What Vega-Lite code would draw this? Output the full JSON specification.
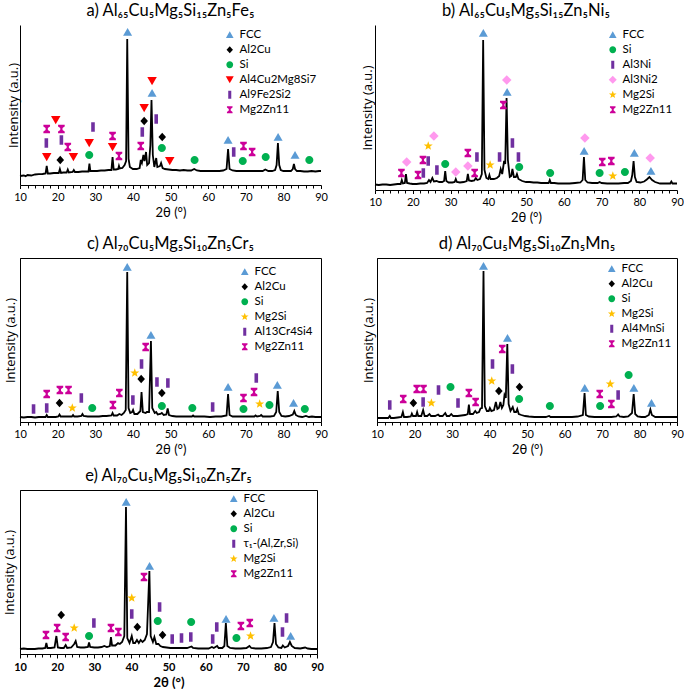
{
  "$schema": "https://vega.github.io/schema/vega-lite/v6.json",
  "background": "white",
  "padding": {"left": 2, "top": 2, "right": 0, "bottom": 0},
  "config": {
    "view": {"stroke": null},
    "font": "Lato",
    "title": {"font": "Lato", "fontSize": 16.5, "fontWeight": "normal", "color": "black", "anchor": "middle", "offset": 6},
    "axis": {"labelFont": "Lato", "titleFont": "Lato", "labelFontSize": 11, "titleFontSize": 13, "titleFontWeight": "normal", "labelColor": "black", "titleColor": "black", "domainColor": "black", "tickColor": "black", "grid": false, "labelFlush": false},
    "axisY": {"titleFont": "Open Sans", "titleFontSize": 13},
    "legend": {"orient": "top-right", "offset": 4, "labelFont": "Lato", "labelFontSize": 11.5, "labelColor": "black", "symbolSize": 64, "rowPadding": 2, "symbolOpacity": 1, "symbolStrokeWidth": 0, "padding": 0},
    "concat": {"spacing": 33}
  },
  "datasets": {
    "a_line": [
      {"x":10,"y":9},{"x":11,"y":9.5},{"x":11.5,"y":8.8},{"x":12,"y":10},{"x":13,"y":9.5},{"x":14,"y":10.5},{"x":15,"y":10.8},{"x":16,"y":11},{"x":16.8,"y":11.5},{"x":17.1,"y":19},{"x":17.4,"y":11.5},{"x":18,"y":11.5},{"x":19,"y":12},{"x":20,"y":12},{"x":20.3,"y":12},{"x":20.6,"y":16},{"x":20.9,"y":12},{"x":21.5,"y":12.5},{"x":22.4,"y":12.5},{"x":22.7,"y":15.5},{"x":23,"y":12.5},{"x":24,"y":13},{"x":24.3,"y":15},{"x":24.6,"y":13},{"x":25.5,"y":13},{"x":26.5,"y":13.5},{"x":27.5,"y":13.5},{"x":28.2,"y":13.5},{"x":28.45,"y":21.5},{"x":28.7,"y":14},{"x":29.5,"y":14},{"x":30.5,"y":14},{"x":31.5,"y":14.5},{"x":32.5,"y":14.5},{"x":33.5,"y":15},{"x":34.3,"y":15},{"x":34.6,"y":28},{"x":34.9,"y":15.5},{"x":35.5,"y":15.5},{"x":36.1,"y":16},{"x":36.3,"y":19},{"x":36.5,"y":16.5},{"x":37.2,"y":17},{"x":37.8,"y":20},{"x":38.2,"y":24},{"x":38.5,"y":146},{"x":38.85,"y":26},{"x":39.2,"y":18},{"x":40,"y":16},{"x":41,"y":16},{"x":41.8,"y":17},{"x":42.1,"y":25},{"x":42.4,"y":22},{"x":42.8,"y":30},{"x":43.1,"y":24},{"x":43.5,"y":33},{"x":43.8,"y":20},{"x":44.3,"y":22},{"x":44.65,"y":40},{"x":44.95,"y":85},{"x":45.3,"y":30},{"x":45.7,"y":18},{"x":46.2,"y":27},{"x":46.5,"y":18},{"x":47.2,"y":19},{"x":47.5,"y":22},{"x":47.9,"y":17},{"x":48.5,"y":16},{"x":49.5,"y":15.5},{"x":50.5,"y":15},{"x":51.5,"y":15},{"x":52.5,"y":14.5},{"x":53.5,"y":15},{"x":54.5,"y":14.5},{"x":55.5,"y":14.5},{"x":56.3,"y":16},{"x":57,"y":14.5},{"x":58,"y":14},{"x":59,"y":14},{"x":60,"y":14},{"x":61,"y":14},{"x":62,"y":14},{"x":63,"y":14},{"x":64,"y":14.5},{"x":64.9,"y":16},{"x":65.3,"y":36},{"x":65.7,"y":16},{"x":66.5,"y":14.5},{"x":67.5,"y":14},{"x":68.5,"y":14},{"x":69.5,"y":14},{"x":70.5,"y":14},{"x":71.5,"y":14},{"x":72.5,"y":14},{"x":73.5,"y":14},{"x":74.5,"y":14},{"x":75.2,"y":15.5},{"x":76,"y":14},{"x":77,"y":14},{"x":77.8,"y":15},{"x":78.2,"y":20},{"x":78.55,"y":42},{"x":78.9,"y":20},{"x":79.3,"y":15},{"x":80,"y":14},{"x":81,"y":14},{"x":82,"y":14},{"x":82.5,"y":16},{"x":82.8,"y":21},{"x":83.1,"y":16},{"x":83.6,"y":14},{"x":84.5,"y":14},{"x":85.5,"y":13.5},{"x":86.5,"y":13.5},{"x":87.5,"y":14},{"x":88.5,"y":13.5},{"x":89.5,"y":14},{"x":90,"y":14}
    ],
    "a_pts": [
      {"x":38.6,"y":153,"p":"FCC"},{"x":45.1,"y":92,"p":"FCC"},{"x":65.3,"y":45,"p":"FCC"},{"x":78.6,"y":48,"p":"FCC"},{"x":83.1,"y":30,"p":"FCC"},
      {"x":20.7,"y":25,"p":"Al2Cu"},{"x":43.0,"y":64,"p":"Al2Cu"},{"x":47.8,"y":48,"p":"Al2Cu"},
      {"x":28.4,"y":30,"p":"Si"},{"x":47.7,"y":37,"p":"Si"},{"x":56.4,"y":25,"p":"Si"},{"x":69.2,"y":24,"p":"Si"},{"x":75.3,"y":28,"p":"Si"},{"x":86.9,"y":25,"p":"Si"},
      {"x":17.1,"y":28,"p":"Al4Cu2Mg8Si7"},{"x":19.5,"y":65,"p":"Al4Cu2Mg8Si7"},{"x":24.2,"y":28,"p":"Al4Cu2Mg8Si7"},{"x":28.4,"y":42,"p":"Al4Cu2Mg8Si7"},{"x":34.6,"y":38,"p":"Al4Cu2Mg8Si7"},{"x":43.0,"y":77,"p":"Al4Cu2Mg8Si7"},{"x":45.1,"y":104,"p":"Al4Cu2Mg8Si7"},{"x":49.8,"y":24,"p":"Al4Cu2Mg8Si7"},
      {"x":17.0,"y":42,"p":"Al9Fe2Si2"},{"x":21.0,"y":45,"p":"Al9Fe2Si2"},{"x":29.4,"y":58,"p":"Al9Fe2Si2"},{"x":42.5,"y":53,"p":"Al9Fe2Si2"},{"x":46.2,"y":66,"p":"Al9Fe2Si2"},{"x":66.8,"y":33,"p":"Al9Fe2Si2"},
      {"x":17.1,"y":56,"p":"Mg2Zn11"},{"x":21.0,"y":56,"p":"Mg2Zn11"},{"x":22.7,"y":38,"p":"Mg2Zn11"},{"x":34.6,"y":49,"p":"Mg2Zn11"},{"x":36.3,"y":29,"p":"Mg2Zn11"},{"x":42.1,"y":39,"p":"Mg2Zn11"},{"x":69.4,"y":39,"p":"Mg2Zn11"},{"x":71.7,"y":33,"p":"Mg2Zn11"}
    ],
    "b_line": [
      {"x":10,"y":5.5},{"x":11,"y":5},{"x":12,"y":5.5},{"x":13,"y":5.5},{"x":14,"y":5},{"x":15,"y":5.5},{"x":16,"y":6},{"x":16.8,"y":6},{"x":17.1,"y":10},{"x":17.4,"y":6.5},{"x":17.9,"y":7},{"x":18.2,"y":16},{"x":18.5,"y":7},{"x":19.2,"y":6.5},{"x":20,"y":6},{"x":21,"y":6},{"x":22,"y":6.5},{"x":23,"y":6.5},{"x":23.8,"y":7},{"x":24.3,"y":10},{"x":24.7,"y":8},{"x":25.2,"y":12},{"x":25.6,"y":8.5},{"x":26.3,"y":9},{"x":27,"y":8},{"x":27.8,"y":8},{"x":28.3,"y":9},{"x":28.6,"y":19},{"x":28.9,"y":9},{"x":29.5,"y":7.5},{"x":30.5,"y":7.5},{"x":31.1,"y":8},{"x":31.4,"y":11},{"x":31.7,"y":8},{"x":32.5,"y":7.5},{"x":33.5,"y":8},{"x":34.3,"y":9},{"x":34.6,"y":16},{"x":34.9,"y":9.5},{"x":35.6,"y":9},{"x":36.3,"y":9.5},{"x":36.7,"y":12},{"x":37.1,"y":10},{"x":37.8,"y":11},{"x":38.3,"y":16},{"x":38.65,"y":150},{"x":39,"y":20},{"x":39.5,"y":12},{"x":40,"y":11},{"x":40.3,"y":15},{"x":40.6,"y":11},{"x":41.5,"y":11},{"x":42.3,"y":12},{"x":42.9,"y":14},{"x":43.3,"y":21},{"x":43.7,"y":16},{"x":44.2,"y":29},{"x":44.5,"y":26},{"x":44.85,"y":92},{"x":45.2,"y":30},{"x":45.7,"y":13},{"x":46.1,"y":14},{"x":46.4,"y":21},{"x":46.8,"y":13},{"x":47.3,"y":13},{"x":47.6,"y":16},{"x":48,"y":11},{"x":49,"y":9},{"x":50,"y":8},{"x":51,"y":8},{"x":52,"y":7.5},{"x":53,"y":7.5},{"x":54,"y":7},{"x":55,"y":7},{"x":56,"y":7},{"x":56.3,"y":10},{"x":56.6,"y":7},{"x":57.5,"y":7},{"x":58.5,"y":6.5},{"x":60,"y":6.5},{"x":61.5,"y":6.5},{"x":63,"y":7},{"x":64.4,"y":7.5},{"x":65,"y":10},{"x":65.35,"y":33},{"x":65.7,"y":10},{"x":66.3,"y":7.5},{"x":67.5,"y":7},{"x":69,"y":7},{"x":69.5,"y":8},{"x":70,"y":7},{"x":71.5,"y":6.5},{"x":73,"y":6.5},{"x":74.5,"y":6.5},{"x":76,"y":7},{"x":77,"y":7},{"x":77.8,"y":9},{"x":78.15,"y":15},{"x":78.5,"y":29},{"x":78.85,"y":13},{"x":79.3,"y":8},{"x":80.3,"y":7.5},{"x":81.3,"y":8.5},{"x":82,"y":10.5},{"x":82.7,"y":13},{"x":83.4,"y":10},{"x":84.2,"y":8},{"x":85.5,"y":6.5},{"x":87,"y":6.5},{"x":88.2,"y":6.5},{"x":88.5,"y":8.5},{"x":88.8,"y":6.5},{"x":90,"y":6.5}
    ],
    "b_pts": [
      {"x":38.7,"y":157,"p":"FCC"},{"x":45.0,"y":98,"p":"FCC"},{"x":65.4,"y":39,"p":"FCC"},{"x":78.7,"y":37,"p":"FCC"},{"x":83.1,"y":19,"p":"FCC"},
      {"x":28.6,"y":26,"p":"Si"},{"x":48.2,"y":23,"p":"Si"},{"x":56.4,"y":17,"p":"Si"},{"x":69.5,"y":17,"p":"Si"},{"x":76.2,"y":18,"p":"Si"},
      {"x":22.8,"y":17,"p":"Al3Ni"},{"x":24.1,"y":29,"p":"Al3Ni"},{"x":26.4,"y":20,"p":"Al3Ni"},{"x":37.0,"y":33,"p":"Al3Ni"},{"x":43.0,"y":33,"p":"Al3Ni"},{"x":46.4,"y":47,"p":"Al3Ni"},{"x":48.0,"y":33,"p":"Al3Ni"},
      {"x":18.4,"y":28,"p":"Al3Ni2"},{"x":25.6,"y":54,"p":"Al3Ni2"},{"x":31.4,"y":18,"p":"Al3Ni2"},{"x":34.6,"y":24,"p":"Al3Ni2"},{"x":44.9,"y":110,"p":"Al3Ni2"},{"x":65.6,"y":52,"p":"Al3Ni2"},{"x":82.9,"y":32,"p":"Al3Ni2"},
      {"x":24.1,"y":44,"p":"Mg2Si"},{"x":40.5,"y":25,"p":"Mg2Si"},{"x":73.0,"y":14,"p":"Mg2Si"},
      {"x":17.0,"y":17,"p":"Mg2Zn11"},{"x":21.4,"y":15,"p":"Mg2Zn11"},{"x":22.7,"y":30,"p":"Mg2Zn11"},{"x":34.6,"y":37,"p":"Mg2Zn11"},{"x":36.4,"y":17,"p":"Mg2Zn11"},{"x":44.0,"y":85,"p":"Mg2Zn11"},{"x":70.2,"y":28,"p":"Mg2Zn11"},{"x":72.6,"y":29,"p":"Mg2Zn11"}
    ],
    "c_line": [
      {"x":10,"y":5},{"x":11,"y":4.5},{"x":12,"y":5},{"x":13,"y":5},{"x":14,"y":4.5},{"x":15,"y":5},{"x":16,"y":5},{"x":16.8,"y":5},{"x":17.1,"y":7},{"x":17.4,"y":5},{"x":18.5,"y":5},{"x":19.5,"y":5},{"x":20.2,"y":5.5},{"x":20.5,"y":7.5},{"x":20.8,"y":5.5},{"x":22,"y":5.5},{"x":23,"y":5.5},{"x":23.8,"y":5.5},{"x":24.1,"y":7},{"x":24.4,"y":5.5},{"x":25.3,"y":5.5},{"x":26.3,"y":6},{"x":26.6,"y":8},{"x":26.9,"y":6},{"x":28,"y":5.5},{"x":29,"y":5.5},{"x":30,"y":5.5},{"x":31,"y":5.5},{"x":32,"y":6},{"x":33,"y":6},{"x":34.3,"y":6.5},{"x":34.6,"y":9},{"x":34.9,"y":6.5},{"x":35.8,"y":6.5},{"x":36.4,"y":8},{"x":37,"y":7},{"x":37.6,"y":9},{"x":38.1,"y":12},{"x":38.5,"y":150},{"x":38.85,"y":14},{"x":39.3,"y":9},{"x":39.8,"y":10},{"x":40.05,"y":12},{"x":40.4,"y":8},{"x":41.2,"y":8},{"x":42,"y":11},{"x":42.3,"y":30},{"x":42.65,"y":10},{"x":43.4,"y":9},{"x":43.7,"y":10},{"x":44.3,"y":10},{"x":44.8,"y":81},{"x":45.15,"y":14},{"x":45.8,"y":9},{"x":46.2,"y":10},{"x":46.6,"y":7.5},{"x":47.3,"y":8},{"x":47.7,"y":9},{"x":48.2,"y":7},{"x":48.9,"y":7.5},{"x":49.25,"y":13.5},{"x":49.6,"y":7},{"x":50.5,"y":6},{"x":51.5,"y":5.5},{"x":53,"y":5.5},{"x":54.5,"y":5.5},{"x":55.7,"y":5.5},{"x":56,"y":6.5},{"x":56.3,"y":5.5},{"x":57.5,"y":5.5},{"x":59,"y":5.5},{"x":60.5,"y":5},{"x":62,"y":5.5},{"x":63.5,"y":5.5},{"x":64.9,"y":6.5},{"x":65.3,"y":28},{"x":65.7,"y":7},{"x":66.5,"y":5.5},{"x":68,"y":5.5},{"x":69.5,"y":5.5},{"x":71,"y":5.5},{"x":72.3,"y":5.5},{"x":72.6,"y":6.5},{"x":73,"y":5.5},{"x":73.8,"y":6},{"x":74.1,"y":7},{"x":74.5,"y":5.5},{"x":75.5,"y":5.5},{"x":76.5,"y":5.5},{"x":77.5,"y":6},{"x":78.1,"y":10},{"x":78.5,"y":31},{"x":78.9,"y":10},{"x":79.5,"y":6},{"x":80.5,"y":5.5},{"x":81.5,"y":6},{"x":82.5,"y":7.5},{"x":82.9,"y":11},{"x":83.3,"y":7},{"x":84,"y":5.5},{"x":85,"y":5},{"x":86,"y":6},{"x":86.8,"y":5},{"x":87.6,"y":5.5},{"x":88.5,"y":5},{"x":90,"y":5}
    ],
    "c_pts": [
      {"x":38.5,"y":155,"p":"FCC"},{"x":44.8,"y":87,"p":"FCC"},{"x":65.3,"y":35,"p":"FCC"},{"x":78.4,"y":37,"p":"FCC"},{"x":82.7,"y":19,"p":"FCC"},
      {"x":20.5,"y":19,"p":"Al2Cu"},{"x":42.2,"y":43,"p":"Al2Cu"},{"x":47.7,"y":29,"p":"Al2Cu"},
      {"x":29.2,"y":14,"p":"Si"},{"x":47.7,"y":16,"p":"Si"},{"x":55.8,"y":14,"p":"Si"},{"x":69.4,"y":13,"p":"Si"},{"x":76.3,"y":17,"p":"Si"},{"x":85.7,"y":13,"p":"Si"},
      {"x":23.9,"y":14,"p":"Mg2Si"},{"x":40.5,"y":49,"p":"Mg2Si"},{"x":73.7,"y":18,"p":"Mg2Si"},
      {"x":13.6,"y":13,"p":"Al13Cr4Si4"},{"x":17.1,"y":14,"p":"Al13Cr4Si4"},{"x":26.3,"y":24,"p":"Al13Cr4Si4"},{"x":40.0,"y":22,"p":"Al13Cr4Si4"},{"x":42.3,"y":58,"p":"Al13Cr4Si4"},{"x":46.4,"y":40,"p":"Al13Cr4Si4"},{"x":49.3,"y":39,"p":"Al13Cr4Si4"},{"x":61.2,"y":15,"p":"Al13Cr4Si4"},{"x":72.8,"y":44,"p":"Al13Cr4Si4"},
      {"x":17.1,"y":28,"p":"Mg2Zn11"},{"x":20.6,"y":32,"p":"Mg2Zn11"},{"x":22.9,"y":32,"p":"Mg2Zn11"},{"x":34.7,"y":17,"p":"Mg2Zn11"},{"x":36.4,"y":29,"p":"Mg2Zn11"},{"x":43.4,"y":75,"p":"Mg2Zn11"},{"x":69.4,"y":24,"p":"Mg2Zn11"},{"x":72.2,"y":30,"p":"Mg2Zn11"}
    ],
    "d_line": [
      {"x":10,"y":4},{"x":11,"y":4},{"x":12,"y":4},{"x":13,"y":4},{"x":13.4,"y":6},{"x":13.7,"y":4},{"x":14.5,"y":4},{"x":15.5,"y":4.5},{"x":16.5,"y":5},{"x":16.9,"y":10},{"x":17.2,"y":5},{"x":18,"y":5},{"x":19,"y":5.5},{"x":19.3,"y":8.5},{"x":19.6,"y":6},{"x":20.4,"y":6},{"x":20.7,"y":10},{"x":21,"y":6},{"x":21.8,"y":6},{"x":22.3,"y":12},{"x":22.7,"y":6},{"x":23.4,"y":6},{"x":24,"y":8},{"x":24.4,"y":6},{"x":25.5,"y":6},{"x":26.3,"y":7.5},{"x":26.7,"y":6},{"x":27.5,"y":6},{"x":28.2,"y":9},{"x":28.6,"y":6},{"x":29.3,"y":6},{"x":29.8,"y":8},{"x":30.3,"y":6},{"x":31.5,"y":6},{"x":32.5,"y":6.5},{"x":33.5,"y":7},{"x":34.2,"y":8},{"x":34.5,"y":17.5},{"x":34.8,"y":8},{"x":35.6,"y":8},{"x":36.2,"y":11},{"x":36.6,"y":9},{"x":37.2,"y":10},{"x":37.6,"y":13.5},{"x":38,"y":14},{"x":38.4,"y":151},{"x":38.75,"y":16},{"x":39.3,"y":11},{"x":39.8,"y":11},{"x":40.1,"y":14},{"x":40.5,"y":11},{"x":41.2,"y":12},{"x":41.7,"y":20},{"x":42.1,"y":13},{"x":42.5,"y":14},{"x":42.9,"y":20},{"x":43.3,"y":14},{"x":43.7,"y":17},{"x":44,"y":27},{"x":44.35,"y":24},{"x":44.75,"y":78},{"x":45.1,"y":18},{"x":45.6,"y":11},{"x":46.2,"y":15},{"x":46.6,"y":10},{"x":47.1,"y":10},{"x":47.4,"y":13},{"x":47.8,"y":8},{"x":48.5,"y":7},{"x":49.5,"y":6},{"x":50.5,"y":5.5},{"x":52,"y":5},{"x":53.5,"y":5},{"x":55,"y":5},{"x":55.9,"y":6},{"x":56.3,"y":5},{"x":57.5,"y":5},{"x":59,"y":5},{"x":60.5,"y":5},{"x":62,"y":5},{"x":63.5,"y":5.5},{"x":64.9,"y":7},{"x":65.35,"y":29},{"x":65.7,"y":7},{"x":66.5,"y":5.5},{"x":68,"y":5},{"x":69.5,"y":5},{"x":71,"y":5},{"x":72.5,"y":5},{"x":73.8,"y":5.5},{"x":74.3,"y":7.5},{"x":74.7,"y":5.5},{"x":75.8,"y":5},{"x":77,"y":5.5},{"x":78,"y":9},{"x":78.45,"y":28},{"x":78.85,"y":8},{"x":79.5,"y":5.5},{"x":80.5,"y":5},{"x":81.5,"y":5},{"x":82.5,"y":7},{"x":82.9,"y":12.5},{"x":83.3,"y":7},{"x":84.2,"y":5},{"x":85.5,"y":5},{"x":87,"y":5},{"x":88.5,"y":5},{"x":90,"y":5}
    ],
    "d_pts": [
      {"x":38.4,"y":156,"p":"FCC"},{"x":44.8,"y":84,"p":"FCC"},{"x":65.4,"y":34,"p":"FCC"},{"x":78.5,"y":34,"p":"FCC"},{"x":83.2,"y":19,"p":"FCC"},
      {"x":19.7,"y":19,"p":"Al2Cu"},{"x":42.5,"y":31,"p":"Al2Cu"},{"x":48.0,"y":35,"p":"Al2Cu"},
      {"x":29.6,"y":35,"p":"Si"},{"x":47.9,"y":23,"p":"Si"},{"x":56.1,"y":16,"p":"Si"},{"x":69.5,"y":16,"p":"Si"},{"x":77.1,"y":47,"p":"Si"},
      {"x":24.5,"y":19,"p":"Mg2Si"},{"x":40.6,"y":41,"p":"Mg2Si"},{"x":72.2,"y":38,"p":"Mg2Si"},
      {"x":13.4,"y":17,"p":"Al4MnSi"},{"x":22.3,"y":20,"p":"Al4MnSi"},{"x":26.4,"y":32,"p":"Al4MnSi"},{"x":31.6,"y":19,"p":"Al4MnSi"},{"x":40.8,"y":58,"p":"Al4MnSi"},{"x":46.1,"y":53,"p":"Al4MnSi"},{"x":74.3,"y":27,"p":"Al4MnSi"},
      {"x":17.0,"y":23,"p":"Mg2Zn11"},{"x":20.6,"y":33,"p":"Mg2Zn11"},{"x":22.4,"y":33,"p":"Mg2Zn11"},{"x":34.5,"y":29,"p":"Mg2Zn11"},{"x":36.3,"y":20,"p":"Mg2Zn11"},{"x":43.4,"y":73,"p":"Mg2Zn11"},{"x":69.4,"y":28,"p":"Mg2Zn11"},{"x":72.5,"y":18,"p":"Mg2Zn11"}
    ],
    "e_line": [
      {"x":10,"y":5},{"x":11,"y":5.5},{"x":12,"y":5},{"x":13,"y":5},{"x":14,"y":5},{"x":15,"y":5.5},{"x":16,"y":5.5},{"x":16.8,"y":6},{"x":17.1,"y":11},{"x":17.4,"y":6},{"x":18.3,"y":6},{"x":19.3,"y":6.5},{"x":19.8,"y":18},{"x":20.2,"y":6.5},{"x":21,"y":6},{"x":21.8,"y":6},{"x":22.3,"y":9},{"x":22.7,"y":6},{"x":23.8,"y":6.5},{"x":24.6,"y":10},{"x":25,"y":13},{"x":25.4,"y":7},{"x":26.3,"y":6.5},{"x":27.3,"y":6.5},{"x":28.3,"y":7},{"x":28.6,"y":11.5},{"x":28.9,"y":7},{"x":30,"y":6.5},{"x":31,"y":6.5},{"x":32,"y":7},{"x":32.7,"y":8},{"x":33.4,"y":7},{"x":34.2,"y":8},{"x":34.5,"y":17},{"x":34.8,"y":8.5},{"x":35.7,"y":8.5},{"x":36.4,"y":11},{"x":36.9,"y":10},{"x":37.5,"y":12},{"x":38.1,"y":18},{"x":38.55,"y":147},{"x":38.9,"y":16},{"x":39.5,"y":11},{"x":40.1,"y":18},{"x":40.5,"y":11},{"x":41,"y":11},{"x":41.5,"y":14},{"x":42,"y":11},{"x":42.5,"y":14},{"x":43,"y":12},{"x":43.6,"y":14},{"x":44.2,"y":20},{"x":44.85,"y":83},{"x":45.2,"y":18},{"x":45.8,"y":12},{"x":46.2,"y":17},{"x":46.7,"y":10},{"x":47.3,"y":10},{"x":47.8,"y":8},{"x":48.5,"y":7},{"x":49.5,"y":6.5},{"x":50.5,"y":6},{"x":52,"y":6},{"x":53.5,"y":6},{"x":55,"y":6},{"x":56.2,"y":7.5},{"x":56.6,"y":6},{"x":58,"y":5.5},{"x":59.5,"y":5.5},{"x":60.8,"y":5.5},{"x":61.7,"y":7},{"x":62.2,"y":6},{"x":63.1,"y":8},{"x":63.5,"y":6},{"x":64.5,"y":6},{"x":65.05,"y":8},{"x":65.45,"y":31},{"x":65.85,"y":8},{"x":66.6,"y":6},{"x":68,"y":5.5},{"x":69.5,"y":5.5},{"x":71,"y":6},{"x":71.8,"y":8},{"x":72.3,"y":6},{"x":73.5,"y":5.5},{"x":75,"y":5.5},{"x":76.5,"y":6},{"x":77.6,"y":7},{"x":78.15,"y":12},{"x":78.55,"y":31},{"x":78.95,"y":10},{"x":79.6,"y":6.5},{"x":80.4,"y":6},{"x":80.8,"y":8.5},{"x":81.3,"y":6.5},{"x":82.2,"y":8},{"x":82.7,"y":12},{"x":83.2,"y":8},{"x":84,"y":6},{"x":85.5,"y":5.5},{"x":86.8,"y":6.5},{"x":87.5,"y":5.5},{"x":88.5,"y":5},{"x":90,"y":5}
    ],
    "e_pts": [
      {"x":38.6,"y":152,"p":"FCC"},{"x":44.9,"y":88,"p":"FCC"},{"x":65.5,"y":35,"p":"FCC"},{"x":78.4,"y":36,"p":"FCC"},{"x":82.9,"y":18,"p":"FCC"},
      {"x":21.1,"y":39,"p":"Al2Cu"},{"x":41.6,"y":27,"p":"Al2Cu"},{"x":48.4,"y":19,"p":"Al2Cu"},
      {"x":28.6,"y":18,"p":"Si"},{"x":47.1,"y":33,"p":"Si"},{"x":56.1,"y":32,"p":"Si"},{"x":68.3,"y":16,"p":"Si"},
      {"x":29.9,"y":31,"p":"τ₁-(Al,Zr,Si)"},{"x":40.1,"y":40,"p":"τ₁-(Al,Zr,Si)"},{"x":47.6,"y":47,"p":"τ₁-(Al,Zr,Si)"},{"x":51.0,"y":15,"p":"τ₁-(Al,Zr,Si)"},{"x":53.5,"y":16,"p":"τ₁-(Al,Zr,Si)"},{"x":56.0,"y":17,"p":"τ₁-(Al,Zr,Si)"},{"x":61.9,"y":15,"p":"τ₁-(Al,Zr,Si)"},{"x":63.0,"y":27,"p":"τ₁-(Al,Zr,Si)"},{"x":80.7,"y":22,"p":"τ₁-(Al,Zr,Si)"},{"x":81.8,"y":36,"p":"τ₁-(Al,Zr,Si)"},
      {"x":24.6,"y":26,"p":"Mg2Si"},{"x":40.1,"y":56,"p":"Mg2Si"},{"x":72.1,"y":18,"p":"Mg2Si"},
      {"x":17.0,"y":19,"p":"Mg2Zn11"},{"x":20.0,"y":26,"p":"Mg2Zn11"},{"x":22.3,"y":17,"p":"Mg2Zn11"},{"x":34.5,"y":26,"p":"Mg2Zn11"},{"x":36.5,"y":22,"p":"Mg2Zn11"},{"x":43.4,"y":77,"p":"Mg2Zn11"},{"x":69.5,"y":28,"p":"Mg2Zn11"},{"x":71.9,"y":31,"p":"Mg2Zn11"}
    ]
  },
  "vconcat": [
    {
      "hconcat": [
        {
          "width": 301, "height": 160,
          "title": "a) Al₆₅Cu₅Mg₅Si₁₅Zn₅Fe₅",
          "resolve": {"axis": {"x": "independent"}},
          "layer": [
            {"data": {"name": "a_line"}, "mark": {"type": "line", "color": "black", "strokeWidth": 1.8},
             "encoding": {
               "x": {"field": "x", "type": "quantitative", "scale": {"domain": [10, 90], "nice": false}, "axis": {"orient": "bottom", "title": "2θ (°)", "values": [10,20,30,40,50,60,70,80,90], "tickSize": 3.5, "labelPadding": 3, "titlePadding": 4}},
               "y": {"field": "y", "type": "quantitative", "scale": {"domain": [0, 160], "nice": false, "zero": false}, "axis": {"title": "Intensity (a.u.)", "labels": false, "ticks": false, "titlePadding": 0}}
             }},
            {"data": {"name": "a_pts"}, "mark": {"type": "point", "filled": true, "opacity": 1, "size": 90, "strokeWidth": 0},
             "encoding": {
               "x": {"field": "x", "type": "quantitative", "axis": {"orient": "bottom", "values": [12,14,16,18,22,24,26,28,32,34,36,38,42,44,46,48,52,54,56,58,62,64,66,68,72,74,76,78,82,84,86,88], "labels": false, "domain": false, "title": null, "tickSize": 3}},
               "y": {"field": "y", "type": "quantitative"},
               "shape": {"field": "p", "type": "nominal", "legend": {"title": null}, "scale": {"domain": ["FCC","Al2Cu","Si","Al4Cu2Mg8Si7","Al9Fe2Si2","Mg2Zn11"], "range": ["M0,-0.85L0.95,0.8L-0.95,0.8Z","M0,-0.9L0.8,0L0,0.9L-0.8,0Z","M0.85,0A0.85,0.85,0,1,1,-0.85,0A0.85,0.85,0,1,1,0.85,0Z","M-1,-0.85L1,-0.85L0,0.9Z","M-0.38,-1L0.38,-1L0.38,1L-0.38,1Z","M-0.7,-0.9L0.7,-0.9L0.7,-0.55L0.24,-0.2L0.24,0.2L0.7,0.55L0.7,0.9L-0.7,0.9L-0.7,0.55L-0.24,0.2L-0.24,-0.2L-0.7,-0.55Z"]}},
               "color": {"field": "p", "type": "nominal", "legend": {"title": null}, "scale": {"domain": ["FCC","Al2Cu","Si","Al4Cu2Mg8Si7","Al9Fe2Si2","Mg2Zn11"], "range": ["#5B9BD5","#000000","#00B050","#FF0000","#7030A0","#CC0099"]}}
             }}
          ]
        },
        {
          "width": 302, "height": 165,
          "title": "b) Al₆₅Cu₅Mg₅Si₁₅Zn₅Ni₅",
          "resolve": {"axis": {"x": "independent"}},
          "layer": [
            {"data": {"name": "b_line"}, "mark": {"type": "line", "color": "black", "strokeWidth": 1.8},
             "encoding": {
               "x": {"field": "x", "type": "quantitative", "scale": {"domain": [10, 90], "nice": false}, "axis": {"orient": "bottom", "title": "2θ (°)", "values": [10,20,30,40,50,60,70,80,90], "tickSize": 3.5, "labelPadding": 3, "titlePadding": 4}},
               "y": {"field": "y", "type": "quantitative", "scale": {"domain": [0, 165], "nice": false, "zero": false}, "axis": {"title": "Intensity (a.u.)", "labels": false, "ticks": false, "titlePadding": 1}}
             }},
            {"data": {"name": "b_pts"}, "mark": {"type": "point", "filled": true, "opacity": 1, "size": 90, "strokeWidth": 0},
             "encoding": {
               "x": {"field": "x", "type": "quantitative", "axis": {"orient": "bottom", "values": [12,14,16,18,22,24,26,28,32,34,36,38,42,44,46,48,52,54,56,58,62,64,66,68,72,74,76,78,82,84,86,88], "labels": false, "domain": false, "title": null, "tickSize": 3}},
               "y": {"field": "y", "type": "quantitative"},
               "shape": {"field": "p", "type": "nominal", "legend": {"title": null}, "scale": {"domain": ["FCC","Si","Al3Ni","Al3Ni2","Mg2Si","Mg2Zn11"], "range": ["M0,-0.85L0.95,0.8L-0.95,0.8Z","M0.85,0A0.85,0.85,0,1,1,-0.85,0A0.85,0.85,0,1,1,0.85,0Z","M-0.38,-1L0.38,-1L0.38,1L-0.38,1Z","M0,-1L1,0L0,1L-1,0Z","M0,-1L0.247,-0.34L0.951,-0.309L0.399,0.13L0.588,0.809L0,0.42L-0.588,0.809L-0.399,0.13L-0.951,-0.309L-0.247,-0.34Z","M-0.7,-0.9L0.7,-0.9L0.7,-0.55L0.24,-0.2L0.24,0.2L0.7,0.55L0.7,0.9L-0.7,0.9L-0.7,0.55L-0.24,0.2L-0.24,-0.2L-0.7,-0.55Z"]}},
               "color": {"field": "p", "type": "nominal", "legend": {"title": null}, "scale": {"domain": ["FCC","Si","Al3Ni","Al3Ni2","Mg2Si","Mg2Zn11"], "range": ["#5B9BD5","#00B050","#7030A0","#FF99EE","#FFC000","#CC0099"]}}
             }}
          ]
        }
      ],
      "resolve": {"scale": {"color": "independent", "shape": "independent"}}
    },
    {
      "hconcat": [
        {
          "width": 301, "height": 164,
          "title": "c) Al₇₀Cu₅Mg₅Si₁₀Zn₅Cr₅",
          "view": {"stroke": "black", "strokeWidth": 1},
          "resolve": {"axis": {"x": "independent"}},
          "layer": [
            {"data": {"name": "c_line"}, "mark": {"type": "line", "color": "black", "strokeWidth": 1.8},
             "encoding": {
               "x": {"field": "x", "type": "quantitative", "scale": {"domain": [10, 90], "nice": false}, "axis": {"orient": "bottom", "title": "2θ (°)", "values": [10,20,30,40,50,60,70,80,90], "tickSize": 3.5, "labelPadding": 3, "titlePadding": 4}},
               "y": {"field": "y", "type": "quantitative", "scale": {"domain": [0, 164], "nice": false, "zero": false}, "axis": {"title": "Intensity (a.u.)", "labels": false, "ticks": false, "titlePadding": 3}}
             }},
            {"data": {"name": "c_pts"}, "mark": {"type": "point", "filled": true, "opacity": 1, "size": 90, "strokeWidth": 0},
             "encoding": {
               "x": {"field": "x", "type": "quantitative", "axis": {"orient": "bottom", "values": [12,14,16,18,22,24,26,28,32,34,36,38,42,44,46,48,52,54,56,58,62,64,66,68,72,74,76,78,82,84,86,88], "labels": false, "domain": false, "title": null, "tickSize": 3}},
               "y": {"field": "y", "type": "quantitative"},
               "shape": {"field": "p", "type": "nominal", "legend": {"title": null, "offset": 8}, "scale": {"domain": ["FCC","Al2Cu","Si","Mg2Si","Al13Cr4Si4","Mg2Zn11"], "range": ["M0,-0.85L0.95,0.8L-0.95,0.8Z","M0,-0.9L0.8,0L0,0.9L-0.8,0Z","M0.85,0A0.85,0.85,0,1,1,-0.85,0A0.85,0.85,0,1,1,0.85,0Z","M0,-1L0.247,-0.34L0.951,-0.309L0.399,0.13L0.588,0.809L0,0.42L-0.588,0.809L-0.399,0.13L-0.951,-0.309L-0.247,-0.34Z","M-0.38,-1L0.38,-1L0.38,1L-0.38,1Z","M-0.7,-0.9L0.7,-0.9L0.7,-0.55L0.24,-0.2L0.24,0.2L0.7,0.55L0.7,0.9L-0.7,0.9L-0.7,0.55L-0.24,0.2L-0.24,-0.2L-0.7,-0.55Z"]}},
               "color": {"field": "p", "type": "nominal", "legend": {"title": null, "offset": 8}, "scale": {"domain": ["FCC","Al2Cu","Si","Mg2Si","Al13Cr4Si4","Mg2Zn11"], "range": ["#5B9BD5","#000000","#00B050","#FFC000","#7030A0","#CC0099"]}}
             }}
          ]
        },
        {
          "width": 300, "height": 164,
          "title": "d) Al₇₀Cu₅Mg₅Si₁₀Zn₅Mn₅",
          "view": {"stroke": "black", "strokeWidth": 1},
          "resolve": {"axis": {"x": "independent"}},
          "layer": [
            {"data": {"name": "d_line"}, "mark": {"type": "line", "color": "black", "strokeWidth": 1.8},
             "encoding": {
               "x": {"field": "x", "type": "quantitative", "scale": {"domain": [10, 90], "nice": false}, "axis": {"orient": "bottom", "title": "2θ (°)", "values": [10,20,30,40,50,60,70,80,90], "tickSize": 3.5, "labelPadding": 3, "titlePadding": 4}},
               "y": {"field": "y", "type": "quantitative", "scale": {"domain": [0, 164], "nice": false, "zero": false}, "axis": {"title": "Intensity (a.u.)", "labels": false, "ticks": false, "titlePadding": 2}}
             }},
            {"data": {"name": "d_pts"}, "mark": {"type": "point", "filled": true, "opacity": 1, "size": 90, "strokeWidth": 0},
             "encoding": {
               "x": {"field": "x", "type": "quantitative", "axis": {"orient": "bottom", "values": [12,14,16,18,22,24,26,28,32,34,36,38,42,44,46,48,52,54,56,58,62,64,66,68,72,74,76,78,82,84,86,88], "labels": false, "domain": false, "title": null, "tickSize": 3}},
               "y": {"field": "y", "type": "quantitative"},
               "shape": {"field": "p", "type": "nominal", "legend": {"title": null, "offset": 5}, "scale": {"domain": ["FCC","Al2Cu","Si","Mg2Si","Al4MnSi","Mg2Zn11"], "range": ["M0,-0.85L0.95,0.8L-0.95,0.8Z","M0,-0.9L0.8,0L0,0.9L-0.8,0Z","M0.85,0A0.85,0.85,0,1,1,-0.85,0A0.85,0.85,0,1,1,0.85,0Z","M0,-1L0.247,-0.34L0.951,-0.309L0.399,0.13L0.588,0.809L0,0.42L-0.588,0.809L-0.399,0.13L-0.951,-0.309L-0.247,-0.34Z","M-0.38,-1L0.38,-1L0.38,1L-0.38,1Z","M-0.7,-0.9L0.7,-0.9L0.7,-0.55L0.24,-0.2L0.24,0.2L0.7,0.55L0.7,0.9L-0.7,0.9L-0.7,0.55L-0.24,0.2L-0.24,-0.2L-0.7,-0.55Z"]}},
               "color": {"field": "p", "type": "nominal", "legend": {"title": null, "offset": 5}, "scale": {"domain": ["FCC","Al2Cu","Si","Mg2Si","Al4MnSi","Mg2Zn11"], "range": ["#5B9BD5","#000000","#00B050","#FFC000","#7030A0","#CC0099"]}}
             }}
          ]
        }
      ],
      "resolve": {"scale": {"color": "independent", "shape": "independent"}}
    },
    {
      "width": 297, "height": 164,
      "title": "e) Al₇₀Cu₅Mg₅Si₁₀Zn₅Zr₅",
      "view": {"stroke": "black", "strokeWidth": 1},
      "resolve": {"axis": {"x": "independent"}},
      "layer": [
        {"data": {"name": "e_line"}, "mark": {"type": "line", "color": "black", "strokeWidth": 1.8},
         "encoding": {
           "x": {"field": "x", "type": "quantitative", "scale": {"domain": [10, 90], "nice": false}, "axis": {"orient": "bottom", "title": "2θ (°)", "titleFontWeight": "bold", "labelFontWeight": "bold", "values": [10,20,30,40,50,60,70,80,90], "tickSize": 4, "labelPadding": 3, "titlePadding": 4}},
           "y": {"field": "y", "type": "quantitative", "scale": {"domain": [0, 164], "nice": false, "zero": false}, "axis": {"title": "Intensity (a.u.)", "labels": false, "ticks": false, "titlePadding": 4}}
         }},
        {"data": {"name": "e_pts"}, "mark": {"type": "point", "filled": true, "opacity": 1, "size": 90, "strokeWidth": 0},
         "encoding": {
           "x": {"field": "x", "type": "quantitative", "axis": {"orient": "bottom", "values": [12,14,16,18,22,24,26,28,32,34,36,38,42,44,46,48,52,54,56,58,62,64,66,68,72,74,76,78,82,84,86,88], "labels": false, "domain": false, "title": null, "tickSize": 3}},
           "y": {"field": "y", "type": "quantitative"},
           "shape": {"field": "p", "type": "nominal", "legend": {"title": null, "orient": "none", "legendX": 208, "legendY": 3}, "scale": {"domain": ["FCC","Al2Cu","Si","τ₁-(Al,Zr,Si)","Mg2Si","Mg2Zn11"], "range": ["M0,-0.85L0.95,0.8L-0.95,0.8Z","M0,-0.9L0.8,0L0,0.9L-0.8,0Z","M0.85,0A0.85,0.85,0,1,1,-0.85,0A0.85,0.85,0,1,1,0.85,0Z","M-0.38,-1L0.38,-1L0.38,1L-0.38,1Z","M0,-1L0.247,-0.34L0.951,-0.309L0.399,0.13L0.588,0.809L0,0.42L-0.588,0.809L-0.399,0.13L-0.951,-0.309L-0.247,-0.34Z","M-0.7,-0.9L0.7,-0.9L0.7,-0.55L0.24,-0.2L0.24,0.2L0.7,0.55L0.7,0.9L-0.7,0.9L-0.7,0.55L-0.24,0.2L-0.24,-0.2L-0.7,-0.55Z"]}},
           "color": {"field": "p", "type": "nominal", "legend": {"title": null, "orient": "none", "legendX": 208, "legendY": 3}, "scale": {"domain": ["FCC","Al2Cu","Si","τ₁-(Al,Zr,Si)","Mg2Si","Mg2Zn11"], "range": ["#5B9BD5","#000000","#00B050","#7030A0","#FFC000","#CC0099"]}}
         }}
      ]
    }
  ],
  "spacing": 10,
  "resolve": {"scale": {"color": "independent", "shape": "independent"}}
}
